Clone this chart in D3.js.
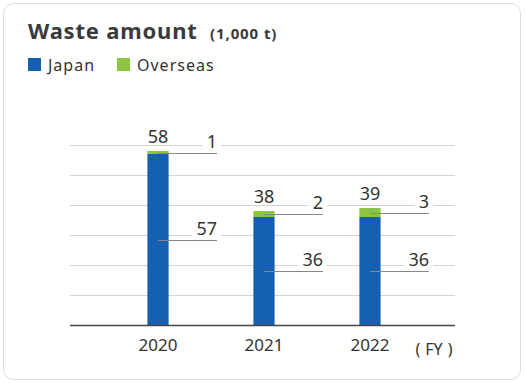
<!DOCTYPE html>
<html><head><meta charset="utf-8">
<script src="https://cdn.jsdelivr.net/npm/d3@7"></script>
<style>
html,body{margin:0;padding:0;background:#fff;}
svg{display:block;font-family:"Noto Sans","Open Sans",sans-serif;}
</style></head>
<body>
<svg id="chart" width="525" height="383"></svg>
<script>
const years = ["2020", "2021", "2022"];
const japan = [57, 36, 36];
const overseas = [1, 2, 3];
const totals = [58, 38, 39];
const yTicks = [10, 20, 30, 40, 50, 60];
const seriesNames = ["Japan", "Overseas"];
const colors = ["#1560b0", "#8cc63f"];

const svg = d3.select("#chart");

// card
svg.append("rect").attr("x", 3.5).attr("y", 3.5).attr("width", 517).attr("height", 376)
  .attr("rx", 10).attr("fill", "#fff").attr("stroke", "#dcdcdc").attr("stroke-width", 1);

// title
svg.append("text").attr("x", 28).attr("y", 39).attr("fill", "#3a3a3a")
  .attr("font-size", 22).attr("font-weight", "bold").attr("letter-spacing", 0.8).text("Waste amount");
svg.append("text").attr("x", 210).attr("y", 39).attr("fill", "#3a3a3a")
  .attr("font-size", 15).attr("font-weight", "bold").attr("letter-spacing", 0.9).text("(1,000 t)");

// legend
const legX = [28, 117];
seriesNames.forEach((n, i) => {
  svg.append("rect").attr("x", legX[i]).attr("y", 58).attr("width", 13).attr("height", 13).attr("fill", colors[i]);
  svg.append("text").attr("x", legX[i] + 20).attr("y", 71).attr("font-size", 16).attr("letter-spacing", 1)
    .attr("fill", "#333").text(n);
});

const x = d3.scaleBand().domain(years).range([105, 423]).paddingInner(0.8).paddingOuter(0.4);
const y = d3.scaleLinear().domain([0, 60]).range([325, 145]);
const gx0 = 70, gx1 = 455;

// gridlines
svg.append("g").selectAll("line").data(yTicks).join("line")
  .attr("x1", gx0).attr("x2", gx1)
  .attr("y1", d => y(d) + 0.5).attr("y2", d => y(d) + 0.5)
  .attr("stroke", "#d4d4d4").attr("stroke-width", 1);

// label data
const labels = [];
years.forEach((yr, i) => {
  const cx = x(yr) + x.bandwidth() / 2;
  labels.push({ cx, ly: y(japan[i] / 2), text: String(japan[i]) });
  labels.push({ cx, ly: y(japan[i] + overseas[i] / 2), text: String(overseas[i]) });
});
const lead = 59;

// label backgrounds (hide gridlines)
const labG = svg.append("g");
const texts = labG.selectAll("text").data(labels).join("text")
  .attr("x", d => d.cx + lead).attr("y", d => d.ly - 5)
  .attr("text-anchor", "end").attr("font-size", 18).attr("fill", "#333")
  .text(d => d.text);
texts.each(function(d) {
  const b = this.getBBox();
  labG.insert("rect", "text").attr("x", b.x - 4).attr("y", b.y).attr("width", b.width + 8).attr("height", b.height)
    .attr("fill", "#fff");
});

// bars
svg.append("g").selectAll("rect").data(years).join("rect")
  .attr("x", d => x(d)).attr("width", x.bandwidth())
  .attr("y", (d, i) => y(japan[i])).attr("height", (d, i) => y(0) - y(japan[i]))
  .attr("fill", colors[0]);
svg.append("g").selectAll("rect").data(years).join("rect")
  .attr("x", d => x(d)).attr("width", x.bandwidth())
  .attr("y", (d, i) => y(japan[i] + overseas[i])).attr("height", (d, i) => y(japan[i]) - y(japan[i] + overseas[i]))
  .attr("fill", colors[1]);

// leader lines
svg.append("g").selectAll("line").data(labels).join("line")
  .attr("x1", d => d.cx).attr("x2", d => d.cx + lead)
  .attr("y1", d => Math.round(d.ly) + 0.5).attr("y2", d => Math.round(d.ly) + 0.5)
  .attr("stroke", "#888").attr("stroke-width", 1.2);

labG.raise();

// totals
svg.append("g").selectAll("text").data(years).join("text")
  .attr("x", d => x(d) + x.bandwidth() / 2)
  .attr("y", (d, i) => y(totals[i]) - 8)
  .attr("text-anchor", "middle").attr("font-size", 18).attr("fill", "#333")
  .text((d, i) => totals[i]);

// axis
const xAxis = d3.axisBottom(x).tickSize(0).tickPadding(14);
const ax = svg.append("g").attr("transform", `translate(0,${y(0)})`).call(xAxis);
ax.select(".domain").remove();
ax.selectAll("text").attr("font-size", 17).attr("fill", "#333").attr("font-family", "Noto Sans, sans-serif");
svg.append("line").attr("x1", gx0).attr("x2", gx1).attr("y1", y(0) + 0.5).attr("y2", y(0) + 0.5)
  .attr("stroke", "#444").attr("stroke-width", 1.5);
const fy = svg.append("text").attr("x", 434).attr("y", 355).attr("text-anchor", "middle")
  .attr("font-size", 16).attr("fill", "#333");
fy.append("tspan").text("(");
fy.append("tspan").attr("dx", 5).text("FY");
fy.append("tspan").attr("dx", 5).text(")");
</script>
</body></html>
